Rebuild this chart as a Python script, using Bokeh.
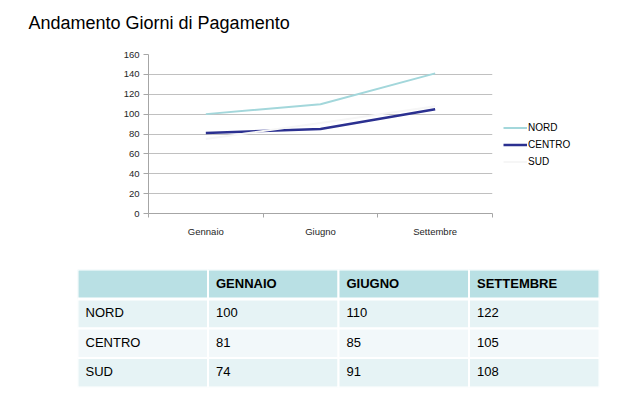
from bokeh.plotting import figure
from bokeh.models import (Range1d, FixedTicker, Legend, LegendItem,
                          ColumnDataSource)
from bokeh.embed import file_html
from bokeh.resources import INLINE
from bokeh.core.properties import value

# ---------------- data ----------------
titolo = "Andamento Giorni di Pagamento"
mesi = ["Gennaio", "Giugno", "Settembre"]
nord = [100, 110, 141]
centro = [81, 85, 105]
sud = [75, 91, 108]
y_ticks = [0, 20, 40, 60, 80, 100, 120, 140, 160]

intestazioni = ["", "GENNAIO", "GIUGNO", "SETTEMBRE"]
regioni = ["NORD", "CENTRO", "SUD"]
tab_nord = [100, 110, 122]
tab_centro = [81, 85, 105]
tab_sud = [74, 91, 108]

FONT = "Liberation Sans"
W = 636

# ---------------- title strip ----------------
h = figure(width=W, height=40, output_backend="svg", toolbar_location=None,
           x_range=Range1d(0, W), y_range=Range1d(40, 0),
           min_border=0, outline_line_color=None,
           background_fill_color="white", border_fill_color="white")
h.title.visible = False
h.axis.visible = False
h.grid.visible = False
h.text(x=[28], y=[22], text=[titolo], text_font=value(FONT),
       text_font_size="18px", text_color="#000000",
       text_baseline="alphabetic", text_align="left")

# ---------------- chart ----------------
p = figure(frame_width=344, frame_height=159,
           output_backend="svg", toolbar_location=None,
           x_range=Range1d(0, len(mesi)), y_range=Range1d(0, 160),
           min_border_left=148, min_border_right=144, min_border_top=14,
           min_border_bottom=37, outline_line_color=None,
           background_fill_color="white", border_fill_color="white")
p.title.visible = False

xs = [i + 0.5 for i in range(len(mesi))]

p.xaxis.ticker = FixedTicker(ticks=xs, minor_ticks=list(range(len(mesi) + 1)))
p.xaxis.major_label_overrides = {x: m for x, m in zip(xs, mesi)}
p.xaxis.major_tick_line_color = None
p.xaxis.major_tick_out = 0
p.xaxis.major_tick_in = 0
p.xaxis.minor_tick_line_color = "#a6a6a6"
p.xaxis.minor_tick_out = 4
p.xaxis.minor_tick_in = 0
p.xaxis.axis_line_color = "#a6a6a6"
p.xaxis.major_label_standoff = 8
p.xaxis.major_label_text_font = FONT
p.xaxis.major_label_text_font_size = "9.5px"
p.xaxis.major_label_text_color = "#262626"

p.yaxis.ticker = FixedTicker(ticks=y_ticks)
p.yaxis.minor_tick_line_color = None
p.yaxis.major_tick_line_color = "#a6a6a6"
p.yaxis.major_tick_out = 5
p.yaxis.major_tick_in = 0
p.yaxis.axis_line_color = "#a6a6a6"
p.yaxis.major_label_standoff = 4
p.yaxis.major_label_text_font = FONT
p.yaxis.major_label_text_font_size = "9.5px"
p.yaxis.major_label_text_color = "#262626"

p.xgrid.grid_line_color = None
p.ygrid.grid_line_color = "#c0c0c0"
p.ygrid.grid_line_width = 1

r_nord = p.line(xs, nord, line_color="#a3d7db", line_width=2)
r_centro = p.line(xs, centro, line_color="#2b3090", line_width=2.5)
r_sud = p.line(xs, sud, line_color="#f6f6f6", line_width=2)

legend = Legend(items=[LegendItem(label="NORD", renderers=[r_nord]),
                       LegendItem(label="CENTRO", renderers=[r_centro]),
                       LegendItem(label="SUD", renderers=[r_sud])],
                location=(11, 43), padding=0, margin=0, spacing=0,
                glyph_width=24, glyph_height=17, label_height=17,
                label_standoff=1, border_line_color=None,
                background_fill_alpha=0,
                label_text_font=FONT, label_text_font_size="10px",
                label_text_color="#000000")
p.add_layout(legend, "right")

# ---------------- table ----------------
t = figure(width=W, height=150, output_backend="svg", toolbar_location=None,
           x_range=Range1d(0, 4), y_range=Range1d(4, 0),
           min_border_left=77, min_border_right=37, min_border_top=19,
           min_border_bottom=13, outline_line_color=None,
           background_fill_color="white", border_fill_color="white")
t.title.visible = False
t.axis.visible = False
t.grid.visible = False

colori_riga = ["#b9e0e4", "#e6f3f5", "#f2f8fa", "#e6f3f5"]
righe = [intestazioni,
         [regioni[0]] + [str(v) for v in tab_nord],
         [regioni[1]] + [str(v) for v in tab_centro],
         [regioni[2]] + [str(v) for v in tab_sud]]

cl, cr, ct, cb, cc = [], [], [], [], []
tx, ty, tt, tw = [], [], [], []
for r, riga in enumerate(righe):
    for c, txt in enumerate(riga):
        cl.append(c); cr.append(c + 1); ct.append(r); cb.append(r + 1)
        cc.append(colori_riga[r])
        tx.append(c); ty.append(r + 0.5); tt.append(txt)
        tw.append("bold" if r == 0 else "normal")

t.quad(left=cl, right=cr, top=ct, bottom=cb, fill_color=cc,
       line_color="white", line_width=2)
t.segment(x0=[0], y0=[1], x1=[4], y1=[1], line_color="white", line_width=3)

src = ColumnDataSource(dict(x=tx, y=ty, text=tt, style=tw))
t.text(x="x", y="y", text="text", source=src, x_offset=8, y_offset=-1,
       text_font=value(FONT), text_font_size="13px", text_font_style="style",
       text_color="#000000", text_baseline="middle", text_align="left")

open("out.html", "w").write(file_html([h, p, t], INLINE))
